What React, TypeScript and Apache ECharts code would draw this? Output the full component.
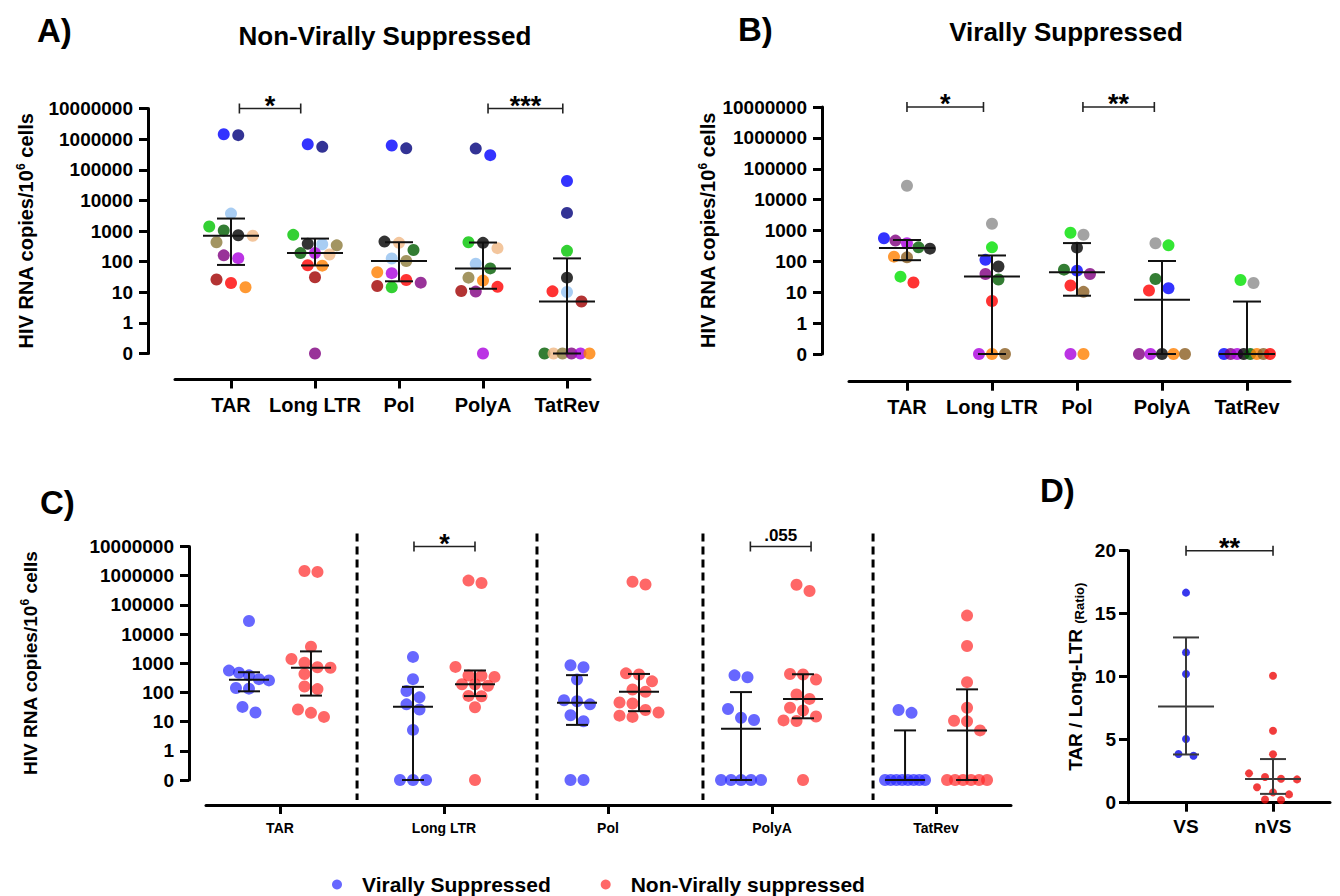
import { useEffect, useRef } from 'react';
import * as echarts from 'echarts';

const FONT = '"Liberation Sans", Arial, Helvetica, sans-serif';

// ---------- categories ----------
const genes = ['TAR', 'Long LTR', 'Pol', 'PolyA', 'TatRev'];
const ratioGroups = ['VS', 'nVS'];

// ---------- Non-virally suppressed participants (13), one colour each ----------
const nvsColors = ['#00007a', '#0000ff', '#92c0f0', '#00c400', '#005c00', '#f0b884', '#000000', '#8c7a3a', '#800080', '#aa00dd', '#a00000', '#ff0000', '#ff8000'];
const nvsTAR = [1350000, 1450000, 3700, 1400, 1040, 700, 730, 430, 160, 130, 26, 20, 14.5];
const nvsLTR = [560000, 680000, 370, 750, 190, 170, 380, 340, 0, 190, 31, 76, 74];
const nvsPol = [500000, 620000, 126, 14.5, 240, 410, 450, 105, 20.6, 42, 16, 25, 45];
const nvsPolyA = [490000, 300000, 85, 430, 60, 275, 410, 30, 10.5, 0, 11, 15, 24];
const nvsTatRev = [3900, 43000, 10.2, 225, 0, 0, 30, 0, 0, 0, 5, 10.7, 0];

// ---------- Virally suppressed participants (10) ----------
const vsColors = ['#8c8c8c', '#0000ff', '#800080', '#aa00dd', '#000000', '#005c00', '#ff8000', '#8b5e20', '#00e000', '#ff0000'];
const vsTAR = [28000, 560, 470, 385, 258, 285, 142, 135, 32, 20.6];
const vsLTR = [1650, 112, 39, 0, 68, 26, 0, 0, 285, 5.2];
const vsPol = [730, 50, 39, 0, 278, 54, 0, 10.3, 850, 16.5];
const vsPolyA = [385, 13.5, 0, 0, 0, 27, 0, 0, 330, 11.4];
const vsTatRev = [20, 0, 0, 0, 0, 0, 0, 0, 25, 0];

// ---------- TAR / Long-LTR ratio ----------
const vsRatio = [16.67, 11.93, 10.21, 5.05, 3.73, 3.86];
const nvsRatio = [10.08, 5.71, 3.84, 2.33, 1.85, 1.9, 2.04, 1.22, 0.82, 0.66, 0.21, 0.26];

// ---------- significance annotations ----------
const sigA = [{ from: 0.1, to: 0.83, text: '*' }, { from: 3.06, to: 3.95, text: '***' }];
const sigB = [{ from: 0, to: 0.9, text: '*' }, { from: 2.07, to: 2.91, text: '**' }];
const sigC = [{ from: 0.817, to: 1.189, text: '*' }, { from: 2.868, to: 3.238, text: '.055' }];
const sigD = [{ from: 0, to: 1, text: '**' }];
const dividersC = [0.47, 1.567, 2.579, 3.616];

const nvsByGene = [nvsTAR, nvsLTR, nvsPol, nvsPolyA, nvsTatRev];
const vsByGene = [vsTAR, vsLTR, vsPol, vsPolyA, vsTatRev];

// ---------- layout ----------
const LA = { left: 175, top: 108.5, width: 415, height: 245, xMin: -0.6667, xMax: 4.274, yOff: 27, xOff: 26 };
const LB = { left: 849, top: 107, width: 441, height: 247, xMin: -0.682, xMax: 4.506, yOff: 27, xOff: 27.7 };
const LC = { left: 206, top: 546.5, width: 805, height: 233.5, xMin: -0.451, xMax: 4.457, yOff: 17, xOff: 25 };
const LD = { left: 1128, top: 550.7, width: 202, height: 252, xMin: -0.667, xMax: 1.655 };
const C_SHIFT = 0.189;

const floor0 = (v: number) => (v <= 0 ? 0.1 : v);
const logPx = (top: number, h: number) => (v: number) => top + (7 - Math.log10(Math.max(v, 0.1))) * h / 8;
const linPx = (top: number, h: number, max: number) => (v: number) => top + (max - v) / max * h;

function quantile(vals: number[], p: number) {
  const s = [...vals].sort((a, b) => a - b);
  const n = s.length;
  const pos = p * (n + 1);
  if (pos <= 1) return s[0];
  if (pos >= n) return s[n - 1];
  const lo = Math.floor(pos);
  const f = pos - lo;
  return s[lo - 1] + f * (s[lo] - s[lo - 1]);
}

function swarm(vals: number[], toPx: (v: number) => number, step: number, rowH: number, maxHalf: number, minDist: number): number[] {
  const n = vals.length;
  const ys = vals.map(toPx);
  const order = ys.map((_, i) => i).sort((a, b) => ys[a] - ys[b] || a - b);
  const off = new Array(n).fill(0);
  const placed: number[][] = [];
  let i = 0;
  while (i < n) {
    const y0 = ys[order[i]];
    let j = i;
    while (j < n && ys[order[j]] - y0 < rowH) j++;
    const row = order.slice(i, j);
    const m = row.length;
    const st = m > 1 ? Math.min(step, (2 * maxHalf) / (m - 1)) : step;
    const lim = maxHalf - ((m - 1) / 2) * st;
    const shifts = [0, step / 2, -step / 2, step, -step];
    let best = 0;
    let bestCost = Infinity;
    for (const sh of shifts) {
      if (sh !== 0 && Math.abs(sh) > lim + 0.01) continue;
      let cost = 0;
      row.forEach((k, r) => {
        const x = (r - (m - 1) / 2) * st + sh;
        for (const [px, py] of placed) {
          const d = Math.hypot(px - x, py - ys[k]);
          if (d < minDist) cost += minDist - d;
        }
      });
      if (cost < bestCost - 0.01) { bestCost = cost; best = sh; }
    }
    row.forEach((k, r) => {
      off[k] = (r - (m - 1) / 2) * st + best;
      placed.push([off[k], ys[k]]);
    });
    i = j;
  }
  return off;
}

function logYAxis(gridIndex: number, offset: number, nameGap: number, margin: number, nameSize: number) {
  return {
    type: 'log', logBase: 10, gridIndex, min: 0.1, max: 10000000, offset, splitNumber: 8,
    name: 'HIV RNA copies/10{sup|6} cells', nameLocation: 'middle', nameGap, nameRotate: 90,
    nameTextStyle: {
      fontSize: nameSize, fontWeight: 'bold', color: '#000', fontFamily: FONT,
      rich: { sup: { fontSize: 12, fontWeight: 'bold', color: '#000', fontFamily: FONT, padding: [0, 0, 10, 0] } },
    },
    axisLine: { show: true, onZero: false, lineStyle: { color: '#000', width: 3 } },
    axisTick: { show: true, length: 9, lineStyle: { color: '#000', width: 3 } },
    axisLabel: {
      formatter: (v: number) => (v < 0.5 ? '0' : String(Math.round(v))),
      fontSize: 19, fontWeight: 'bold', color: '#000', fontFamily: FONT, margin,
    },
    splitLine: { show: false },
  };
}

function catXAxis(gridIndex: number, min: number, max: number, offset: number, labels: string[], fontSize: number, margin: number) {
  const vals = labels.map((_, i) => i);
  return {
    type: 'value', gridIndex, min, max, offset,
    axisLine: { show: true, onZero: false, lineStyle: { color: '#000', width: 3 } },
    axisTick: { show: true, length: 9, customValues: vals, lineStyle: { color: '#000', width: 3 } },
    axisLabel: {
      customValues: vals, formatter: (v: number) => labels[Math.round(v)] ?? '',
      fontSize, fontWeight: 'bold', color: '#000', fontFamily: FONT, margin,
    },
    splitLine: { show: false },
  };
}

function errSeries(xi: number, items: number[][], halfMed: number, halfCap: number, color: string, clampLog: boolean) {
  return {
    type: 'custom', xAxisIndex: xi, yAxisIndex: xi, silent: true, z: 6, clip: false,
    data: items.map(([x, med, q1, q3]) => (clampLog ? [x, floor0(med), floor0(q1), floor0(q3)] : [x, med, q1, q3])),
    renderItem: (_p: any, api: any) => {
      const x = api.value(0);
      const pm = api.coord([x, api.value(1)]);
      const p1 = api.coord([x, api.value(2)]);
      const p3 = api.coord([x, api.value(3)]);
      const st = { stroke: color, lineWidth: 2 };
      return {
        type: 'group',
        children: [
          { type: 'line', shape: { x1: pm[0], y1: p1[1], x2: pm[0], y2: p3[1] }, style: st },
          { type: 'line', shape: { x1: pm[0] - halfMed, y1: pm[1], x2: pm[0] + halfMed, y2: pm[1] }, style: st },
          { type: 'line', shape: { x1: pm[0] - halfCap, y1: p1[1], x2: pm[0] + halfCap, y2: p1[1] }, style: st },
          { type: 'line', shape: { x1: pm[0] - halfCap, y1: p3[1], x2: pm[0] + halfCap, y2: p3[1] }, style: st },
        ],
      };
    },
  };
}

function bracketSeries(xi: number, list: { from: number; to: number; text: string }[], yTop: number) {
  return {
    type: 'custom', xAxisIndex: xi, yAxisIndex: xi, silent: true, z: 6, clip: false,
    data: list.map((b) => [b.from, yTop, b.to]),
    renderItem: (params: any, api: any) => {
      const a = api.coord([api.value(0), api.value(1)]);
      const b = api.coord([api.value(2), api.value(1)]);
      const txt = list[params.dataIndex].text;
      const star = txt.indexOf('*') >= 0;
      const st = { stroke: '#222', lineWidth: 1.6 };
      return {
        type: 'group',
        children: [
          { type: 'line', shape: { x1: a[0], y1: a[1], x2: b[0], y2: b[1] }, style: st },
          { type: 'line', shape: { x1: a[0], y1: a[1] - 5, x2: a[0], y2: a[1] + 5 }, style: st },
          { type: 'line', shape: { x1: b[0], y1: b[1] - 5, x2: b[0], y2: b[1] + 5 }, style: st },
          {
            type: 'text',
            style: {
              text: txt, x: (a[0] + b[0]) / 2, y: star ? a[1] - 3 : a[1] - 11,
              align: 'center', verticalAlign: 'middle', textAlign: 'center', textVerticalAlign: 'middle',
              font: star ? `bold 27px ${FONT}` : `bold 17px ${FONT}`, fill: '#000',
            },
          },
        ],
      };
    },
  };
}

function buildOption() {
  const pxA = logPx(LA.top, LA.height);
  const pxB = logPx(LB.top, LB.height);
  const pxC = logPx(LC.top, LC.height);
  const pxD = linPx(LD.top, LD.height, 20);

  // Panel A
  const dataA: any[] = [];
  const errA: number[][] = [];
  nvsByGene.forEach((vals, g) => {
    const off = swarm(vals, pxA, 14.5, 11, 22.5, 12);
    vals.forEach((v, i) => dataA.push({ value: [g, floor0(v)], symbolOffset: [off[i], 0], itemStyle: { color: nvsColors[i] } }));
    errA.push([g, quantile(vals, 0.5), quantile(vals, 0.25), quantile(vals, 0.75)]);
  });
  // Panel B
  const dataB: any[] = [];
  const errB: number[][] = [];
  vsByGene.forEach((vals, g) => {
    const off = swarm(vals, pxB, 13, 11, 23, 12);
    vals.forEach((v, i) => dataB.push({ value: [g, floor0(v)], symbolOffset: [off[i], 0], itemStyle: { color: vsColors[i] } }));
    errB.push([g, quantile(vals, 0.5), quantile(vals, 0.25), quantile(vals, 0.75)]);
  });
  // Panel C
  const dataCvs: any[] = [];
  const dataCnvs: any[] = [];
  const errC: number[][] = [];
  vsByGene.forEach((vals, g) => {
    const off = swarm(vals, pxC, 13, 11, 20, 11);
    vals.forEach((v, i) => dataCvs.push({ value: [g - C_SHIFT, floor0(v)], symbolOffset: [off[i], 0] }));
    errC.push([g - C_SHIFT, quantile(vals, 0.5), quantile(vals, 0.25), quantile(vals, 0.75)]);
  });
  nvsByGene.forEach((vals, g) => {
    const off = swarm(vals, pxC, 13, 11, 20, 11);
    vals.forEach((v, i) => dataCnvs.push({ value: [g + C_SHIFT, floor0(v)], symbolOffset: [off[i], 0] }));
    errC.push([g + C_SHIFT, quantile(vals, 0.5), quantile(vals, 0.25), quantile(vals, 0.75)]);
  });
  // Panel D
  const offDv = swarm(vsRatio, pxD, 15, 8, 26, 9);
  const offDn = swarm(nvsRatio, pxD, 16, 8, 26, 9);
  const dataDv = vsRatio.map((v, i) => ({ value: [0, v], symbolOffset: [offDv[i], 0] }));
  const dataDn = nvsRatio.map((v, i) => ({ value: [1, v], symbolOffset: [offDn[i], 0] }));
  const errD = [
    [0, quantile(vsRatio, 0.5), quantile(vsRatio, 0.25), quantile(vsRatio, 0.75)],
    [1, quantile(nvsRatio, 0.5), quantile(nvsRatio, 0.25), quantile(nvsRatio, 0.75)],
  ];

  const blueC = 'rgba(40,40,255,0.88)';
  const redC = 'rgba(255,40,40,0.88)';

  return {
    animation: false,
    backgroundColor: '#fff',
    textStyle: { fontFamily: FONT },
    grid: [
      { left: LA.left, top: LA.top, width: LA.width, height: LA.height },
      { left: LB.left, top: LB.top, width: LB.width, height: LB.height },
      { left: LC.left, top: LC.top, width: LC.width, height: LC.height },
      { left: LD.left, top: LD.top, width: LD.width, height: LD.height },
    ],
    xAxis: [
      catXAxis(0, LA.xMin, LA.xMax, LA.xOff, genes, 20, 15),
      catXAxis(1, LB.xMin, LB.xMax, LB.xOff, genes, 20, 15),
      catXAxis(2, LC.xMin, LC.xMax, LC.xOff, genes, 14, 16),
      catXAxis(3, LD.xMin, LD.xMax, 0, ratioGroups, 19, 14),
    ],
    yAxis: [
      logYAxis(0, LA.yOff, 111, 15, 20),
      logYAxis(1, LB.yOff, 103, 15, 20),
      logYAxis(2, LC.yOff, 148, 15, 19),
      {
        type: 'value', gridIndex: 3, min: 0, max: 20, interval: 5,
        name: 'TAR / Long-LTR {sub|(Ratio)}', nameLocation: 'middle', nameGap: 42, nameRotate: 90,
        nameTextStyle: {
          fontSize: 19, fontWeight: 'bold', color: '#000', fontFamily: FONT,
          rich: { sub: { fontSize: 13, color: '#000', fontFamily: FONT, padding: [8, 0, 0, 0] } },
        },
        axisLine: { show: true, onZero: false, lineStyle: { color: '#000', width: 3 } },
        axisTick: { show: true, length: 9, lineStyle: { color: '#000', width: 3 } },
        axisLabel: { fontSize: 19, fontWeight: 'bold', color: '#000', fontFamily: FONT, margin: 12 },
        splitLine: { show: false },
      },
    ],
    legend: {
      data: ['Virally Suppressed', 'Non-Virally suppressed'],
      left: 332, top: 874, icon: 'circle', itemWidth: 10, itemHeight: 10, itemGap: 50,
      selectedMode: false, padding: 0,
      textStyle: { fontSize: 21, lineHeight: 20, fontWeight: 'bold', color: '#000', fontFamily: FONT, padding: [0, 0, 0, 15] },
    },
    graphic: [
      { type: 'text', x: 37, y: 14, style: { text: 'A)', font: `bold 33px ${FONT}`, fill: '#000' } },
      { type: 'text', x: 385, y: 36, style: { text: 'Non-Virally Suppressed', font: `bold 26px ${FONT}`, fill: '#000', align: 'center', verticalAlign: 'middle', textAlign: 'center', textVerticalAlign: 'middle' } },
      { type: 'text', x: 738, y: 13, style: { text: 'B)', font: `bold 33px ${FONT}`, fill: '#000' } },
      { type: 'text', x: 1066, y: 32, style: { text: 'Virally Suppressed', font: `bold 26px ${FONT}`, fill: '#000', align: 'center', verticalAlign: 'middle', textAlign: 'center', textVerticalAlign: 'middle' } },
      { type: 'text', x: 40, y: 486, style: { text: 'C)', font: `bold 33px ${FONT}`, fill: '#000' } },
      { type: 'text', x: 1040, y: 474, style: { text: 'D)', font: `bold 33px ${FONT}`, fill: '#000' } },
    ],
    series: [
      { type: 'scatter', xAxisIndex: 0, yAxisIndex: 0, symbolSize: 12, data: dataA, z: 3, silent: true },
      errSeries(0, errA, 28, 14, '#111', true),
      bracketSeries(0, sigA, 10000000),

      { type: 'scatter', xAxisIndex: 1, yAxisIndex: 1, symbolSize: 12, data: dataB, z: 3, silent: true },
      errSeries(1, errB, 28, 14, '#111', true),
      bracketSeries(1, sigB, 10000000),

      {
        type: 'custom', xAxisIndex: 2, yAxisIndex: 2, silent: true, clip: false, z: 1,
        data: dividersC.map((x) => [x, 10000000]),
        renderItem: (_p: any, api: any) => {
          const t = api.coord([api.value(0), 10000000]);
          const b = api.coord([api.value(0), 0.1]);
          return { type: 'line', shape: { x1: t[0], y1: t[1] - 13, x2: t[0], y2: b[1] + 20 }, style: { stroke: '#000', lineWidth: 3, lineDash: [8, 5] } };
        },
      },
      { name: 'Virally Suppressed', type: 'scatter', xAxisIndex: 2, yAxisIndex: 2, symbolSize: 12, data: dataCvs, itemStyle: { color: blueC }, z: 3, silent: true },
      { name: 'Non-Virally suppressed', type: 'scatter', xAxisIndex: 2, yAxisIndex: 2, symbolSize: 12, data: dataCnvs, itemStyle: { color: redC }, z: 3, silent: true },
      errSeries(2, errC, 20, 11, '#111', true),
      bracketSeries(2, sigC, 10000000),

      { name: 'VS', type: 'scatter', xAxisIndex: 3, yAxisIndex: 3, symbolSize: 8, data: dataDv, itemStyle: { color: '#0505e8' }, z: 3, silent: true },
      { name: 'nVS', type: 'scatter', xAxisIndex: 3, yAxisIndex: 3, symbolSize: 8, data: dataDn, itemStyle: { color: '#ee0b0b' }, z: 3, silent: true },
      errSeries(3, errD, 28, 13, '#3a3a3a', false),
      bracketSeries(3, sigD, 20),
    ],
  };
}

export default function App() {
  const ref = useRef<HTMLDivElement | null>(null);
  useEffect(() => {
    document.body.style.margin = '0';
    if (!ref.current) return;
    const chart = echarts.init(ref.current, undefined, { renderer: 'svg' });
    chart.setOption(buildOption() as any);
    return () => chart.dispose();
  }, []);
  return <div ref={ref} style={{ width: 1340, height: 896, background: '#fff' }} />;
}
